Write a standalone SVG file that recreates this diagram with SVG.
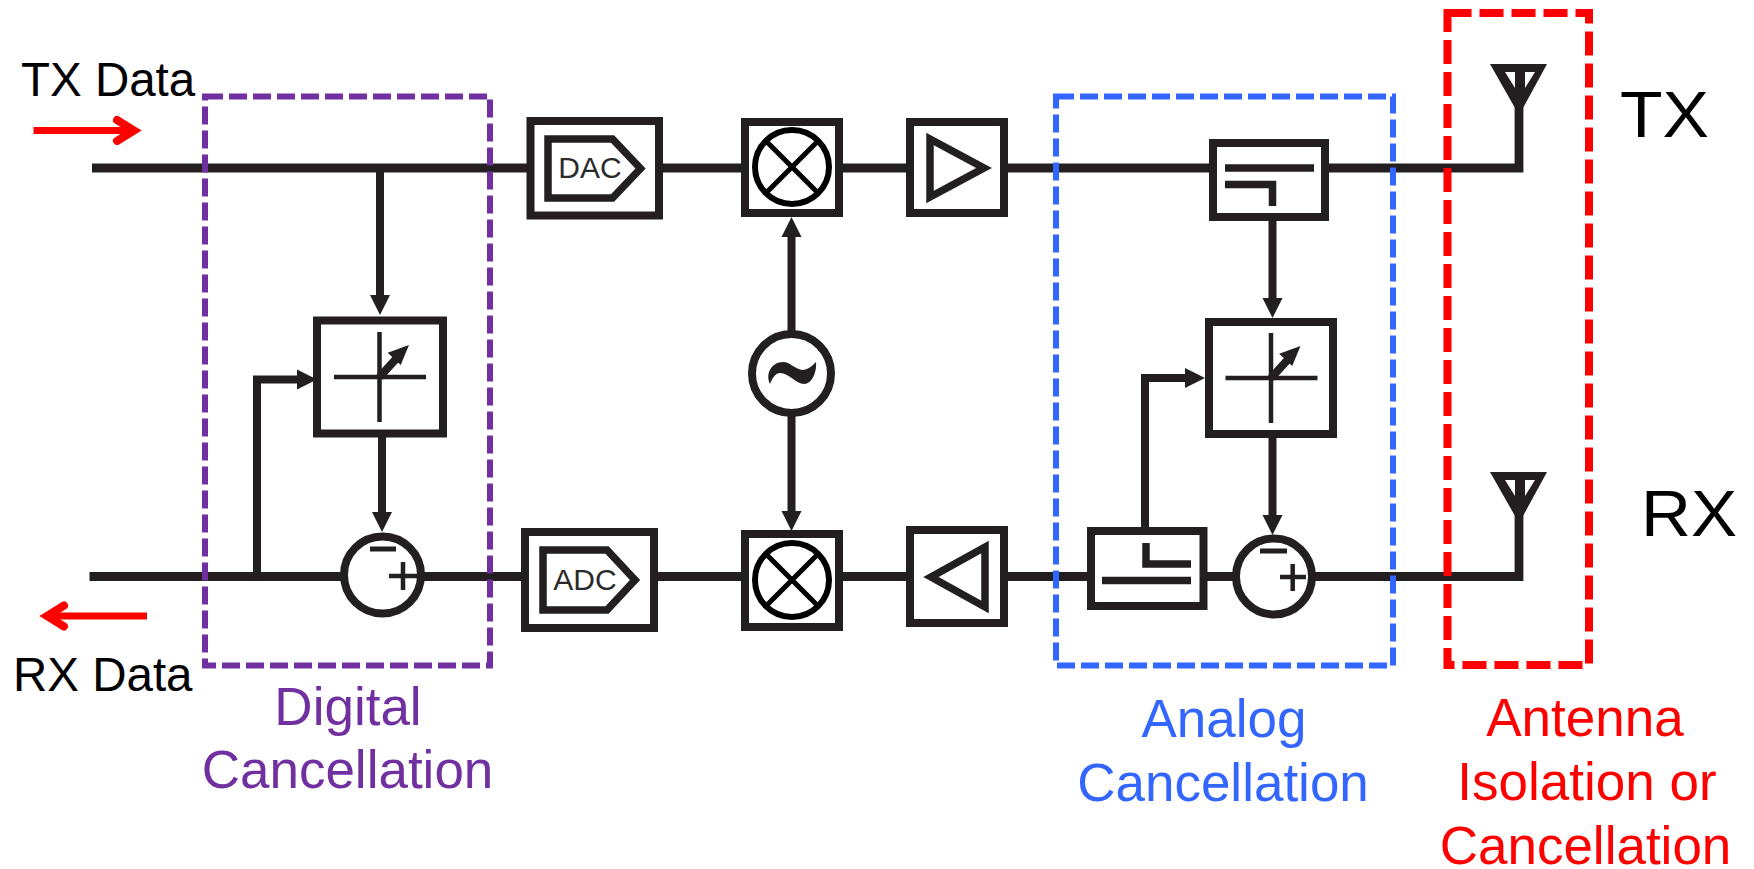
<svg xmlns="http://www.w3.org/2000/svg" width="1754" height="869" viewBox="0 0 1754 869">
<style>
.w{fill:none;stroke:#231f20;stroke-width:8.8}
.c{fill:none;stroke:#231f20;stroke-width:8}
.b{fill:#fff;stroke:#231f20;stroke-width:8}
.s{fill:none;stroke:#231f20;stroke-width:7.5}
.t{fill:none;stroke:#231f20;stroke-width:4.5}
.bar{fill:none;stroke:#231f20;stroke-width:7.5}
.fill{fill:#231f20}
.m{fill:none;stroke:#000;stroke-width:6}
.x{fill:none;stroke:#000;stroke-width:5}
.ra{fill:none;stroke:#f00;stroke-width:7}
.rh{fill:none;stroke:#f00;stroke-width:8;stroke-linecap:round}
text{font-family:"Liberation Sans",Arial,sans-serif}
.g{fill:#2b2b2b;font-size:30px;text-anchor:middle}
.k{fill:#000;font-size:47.5px}
.big{fill:#000;font-size:65px}
.lab{font-size:53px;text-anchor:middle}
.dp{fill:none;stroke:#7030a0;stroke-width:6;stroke-dasharray:18 6}
.db{fill:none;stroke:#3366ff;stroke-width:6;stroke-dasharray:18 6}
.dr{fill:none;stroke:#f00;stroke-width:8;stroke-dasharray:24 8}
</style>
<defs>
<marker id="ah" markerUnits="userSpaceOnUse" markerWidth="22" markerHeight="22" refX="0" refY="11" orient="auto" overflow="visible"><path d="M0,1 L20,11 L0,21 Z" fill="#231f20"/></marker>
<path id="ant" class="fill" fill-rule="evenodd" d="M1490,64 H1547 L1523,108 H1515 Z M1505,72 H1515 V88 Z M1525,72 H1535 L1525,88 Z"/>
<g id="pdial">
<path class="t" d="M379.5,332 V422 M334,377 H426"/>
<path class="c" d="M379.5,377 L396,359"/>
<path class="fill" d="M409,345 L387.7,352.7 L400.7,365 Z"/>
</g>
</defs>
<rect width="1754" height="869" fill="#fff"/>

<g id="connectors">
<path class="w" d="M92,168 H1519 V105"/>
<path class="w" d="M89.5,576.5 H1519 V512"/>
<path class="c" d="M380,168.5 V295" marker-end="url(#ah)"/>
<path class="c" d="M257,576.5 V379.5 H297" marker-end="url(#ah)"/>
<path class="c" d="M382,437 V512" marker-end="url(#ah)"/>
<path class="c" d="M791.5,333 V237" marker-end="url(#ah)"/>
<path class="c" d="M791.5,416 V511" marker-end="url(#ah)"/>
<path class="c" d="M1272.5,221 V298" marker-end="url(#ah)"/>
<path class="c" d="M1145,528 V378 H1185" marker-end="url(#ah)"/>
<path class="c" d="M1272.5,438 V515" marker-end="url(#ah)"/>
</g>

<g id="tx-data-arrow"><path class="ra" d="M33.5,130.5 H134"/><path class="rh" d="M117,120 L134,130.5 L117,141"/></g>
<g id="rx-data-arrow"><path class="ra" d="M147,616 H47"/><path class="rh" d="M64,605.5 L47,616 L64,626.5"/></g>

<g id="dac">
<rect class="b" x="530.5" y="121" width="128.5" height="94.5"/>
<path class="s" d="M548,139 H612.5 L640.5,168.5 L612.5,198 H548 Z"/>
<text class="g" x="590" y="178">DAC</text>
</g>
<g id="mixer-tx">
<rect class="b" x="745" y="122" width="94" height="91"/>
<circle class="m" cx="792" cy="167" r="37"/>
<path class="x" d="M766,141 L818,193 M818,141 L766,193"/>
</g>
<g id="lo">
<circle class="b" cx="791.5" cy="373.5" r="39.5" stroke-width="8.5"/>
<path class="fill" d="M770,384 C765,373 772,362 783,362 C790,362 795,369 802,370 C808,370 812,366 816,362 C817,372 812,384 804,384 C796,384 789,373 780,373 C775,373 772,379 770,384 Z"/>
</g>
<g id="mixer-rx">
<rect class="b" x="745" y="534" width="94" height="93"/>
<circle class="m" cx="792" cy="580" r="37"/>
<path class="x" d="M766,554 L818,606 M818,554 L766,606"/>
</g>
<g id="pa">
<rect class="b" x="910" y="122" width="94" height="91"/>
<path class="s" d="M930,139 L984,168 L930,197 Z"/>
</g>
<g id="coupler-tx">
<rect class="b" x="1213" y="143" width="112" height="74"/>
<path class="bar" d="M1225,168 H1314 M1225,184.5 H1272.5 V206"/>
</g>
<g id="phase-digital">
<rect class="b" x="317" y="320.5" width="126" height="113"/>
<use href="#pdial"/>
</g>
<g id="phase-analog">
<rect class="b" x="1209" y="322" width="124" height="112"/>
<use href="#pdial" transform="translate(891.5,1)"/>
</g>
<g id="sub-digital">
<circle class="b" cx="382.5" cy="575" r="38.5"/>
<path d="M370,549 H396" stroke="#231f20" stroke-width="5" fill="none"/>
<path class="t" d="M389,576 H417 M403,562 V590"/>
</g>
<g id="adc">
<rect class="b" x="525" y="532" width="129" height="96"/>
<path class="s" d="M543,550 H607 L635,580 L607,610 H543 Z"/>
<text class="g" x="585" y="590">ADC</text>
</g>
<g id="lna">
<rect class="b" x="910" y="530" width="94" height="93"/>
<path class="s" d="M931,577 L985,547 V607 Z"/>
</g>
<g id="coupler-rx">
<rect class="b" x="1091" y="531" width="112.5" height="75"/>
<path class="bar" d="M1102,580.5 H1191 M1191,564 H1146 V543"/>
</g>
<g id="sub-analog">
<circle class="b" cx="1274" cy="576.5" r="38"/>
<path d="M1260,551 H1287" stroke="#231f20" stroke-width="5" fill="none"/>
<path class="t" d="M1280,577 H1306 M1292.7,564 V591"/>
</g>
<g id="antenna-tx"><use href="#ant"/></g>
<g id="antenna-rx"><use href="#ant" transform="translate(0,408)"/></g>

<g id="digital-region"><rect class="dp" x="205" y="96.5" width="285" height="569"/></g>
<g id="analog-region"><rect class="db" x="1056" y="96.5" width="337" height="569"/></g>
<g id="antenna-region"><rect class="dr" x="1447.5" y="13" width="141.5" height="652"/></g>

<g id="labels">
<text class="k" x="21" y="96">TX Data</text>
<text class="k" x="13" y="691">RX Data</text>
<text class="big" x="1620" y="137" textLength="89" lengthAdjust="spacingAndGlyphs">TX</text>
<text class="big" x="1641" y="536" textLength="96" lengthAdjust="spacingAndGlyphs">RX</text>
<text class="lab" fill="#7030a0" x="348" y="725">Digital</text>
<text class="lab" fill="#7030a0" x="347.5" y="788">Cancellation</text>
<text class="lab" fill="#3366ff" x="1224" y="737">Analog</text>
<text class="lab" fill="#3366ff" x="1223" y="801">Cancellation</text>
<text class="lab" fill="#f00" x="1585" y="736">Antenna</text>
<text class="lab" fill="#f00" x="1587" y="800">Isolation or</text>
<text class="lab" fill="#f00" x="1585.5" y="864">Cancellation</text>
</g>
</svg>
